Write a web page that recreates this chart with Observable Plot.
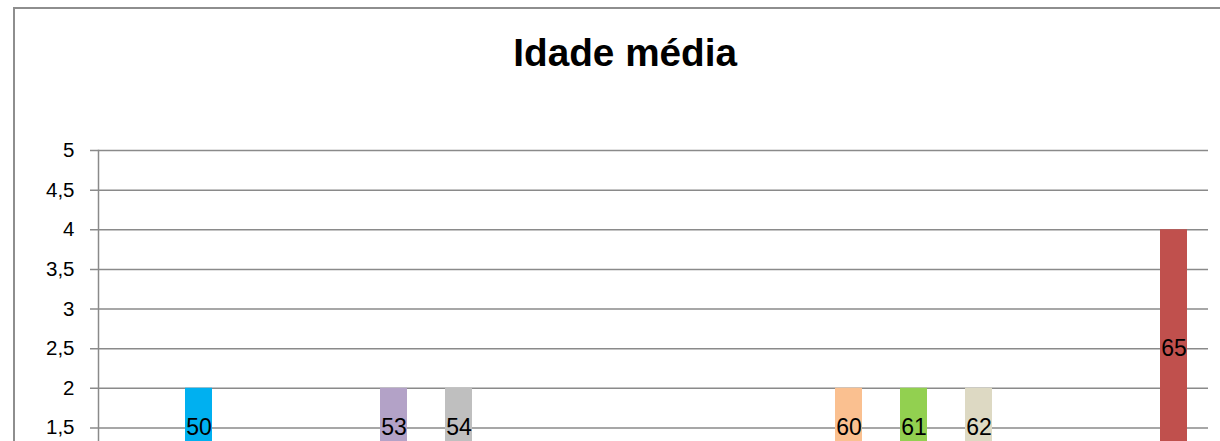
<!DOCTYPE html>
<html>
<head>
<meta charset="utf-8">
<script src="https://cdn.jsdelivr.net/npm/d3@7"></script>
<script src="https://cdn.jsdelivr.net/npm/@observablehq/plot@0.6"></script>
<style>
  html, body { margin: 0; padding: 0; overflow: hidden; background: #fff; width: 1220px; height: 441px; }
  #frame { position: absolute; left: 13px; top: 7px; width: 1300px; height: 600px;
           border-top: 2px solid #8e8e8e; border-left: 2px solid #8e8e8e; box-sizing: border-box; }
  #title { position: absolute; left: 0; top: 33px; width: 1250px; text-align: center;
           font-family: "Liberation Sans", Arial, sans-serif; font-weight: bold; font-size: 39.5px;
           color: #000; line-height: 1; }
  #title span { display: inline-block; transform: scaleX(0.98); }
  #chart { position: absolute; left: 0; top: 0; }
</style>
</head>
<body>
<div id="frame"></div>
<div id="title"><span>Idade média</span></div>
<div id="chart"></div>
<script>
// categories on the x axis (ages)
const ageCategories = ["49","50","51","52","53","54","55","56","57","58","59","60","61","62","63","64","65"];
// visible bars
const ages   = ["50", "53", "54", "60", "61", "62", "65"];
const counts = [2, 2, 2, 2, 2, 2, 4];
const colors = ["#00B0F0", "#B3A2C7", "#BFBFBF", "#FAC090", "#92D050", "#DDD9C3", "#C0504D"];
// y axis
const yMin = 1, yMax = 5;
const yGrid = [1, 1.5, 2, 2.5, 3, 3.5, 4, 4.5, 5];
const yTickLabels = [1.5, 2, 2.5, 3, 3.5, 4, 4.5, 5];

const data = ages.map((a, i) => ({age: a, count: counts[i], color: colors[i]}));
const gray = "#8a8a8a";

const chart = Plot.plot({
  width: 1220,
  height: 480,
  marginTop: 150,
  marginBottom: 13,
  marginLeft: 98,
  marginRight: 12,
  style: {fontFamily: "'Liberation Sans', Arial, sans-serif", background: "transparent"},
  x: {type: "band", domain: ageCategories, paddingInner: 0.587, paddingOuter: 0.27, axis: null},
  y: {domain: [yMin, yMax], axis: null},
  marks: [
    Plot.ruleY(yGrid, {y: d => d, stroke: gray, strokeWidth: 1.5, insetLeft: -8}),
    Plot.barY(data, {x: "age", y1: () => yMin, y2: "count", fill: "color"}),
    Plot.axisY({ticks: yTickLabels, tickSize: 0, tickPadding: 24, fontSize: 20.5, fill: "#000",
                label: null, tickFormat: d => String(d).replace(".", ",")}),
    Plot.frame({anchor: "left", stroke: gray, strokeWidth: 1.5}),
    Plot.text(data, {x: "age", y: d => (yMin + d.count) / 2, text: "age",
                     fontSize: 23, fill: "#000", lineAnchor: "middle"})
  ]
});
document.getElementById("chart").appendChild(chart);
</script>
</body>
</html>
